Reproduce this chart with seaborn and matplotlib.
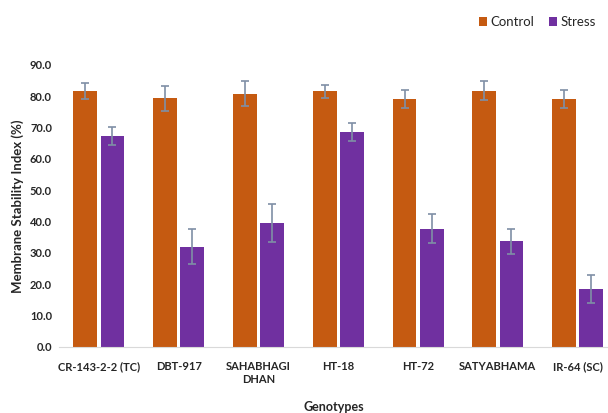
import numpy as np
import pandas as pd
import matplotlib
matplotlib.use("Agg")
import matplotlib.pyplot as plt
import seaborn as sns

# --- data ---
genotypes = ["CR-143-2-2 (TC)", "DBT-917", "SAHABHAGI\nDHAN", "HT-18",
             "HT-72", "SATYABHAMA", "IR-64 (SC)"]
control_mean = [81.6, 79.4, 80.8, 81.5, 79.1, 81.7, 79.1]
control_err = [2.5, 4.0, 4.0, 2.0, 3.0, 3.0, 3.0]
stress_mean = [67.3, 32.0, 39.5, 68.6, 37.7, 33.7, 18.5]
stress_err = [3.0, 5.5, 6.0, 3.0, 4.6, 4.0, 4.5]
treatments = ["Control", "Stress"]
colors = {"Control": "#C55A11", "Stress": "#7030A0"}

df = pd.DataFrame({
    "Genotype": genotypes * 2,
    "Treatment": ["Control"] * len(genotypes) + ["Stress"] * len(genotypes),
    "MSI": control_mean + stress_mean,
    "err": control_err + stress_err,
})

sns.set_style("white")
plt.rcParams["font.family"] = ["Lato", "DejaVu Sans"]

fig = plt.figure(figsize=(6.08, 4.13), dpi=100)
ax = fig.add_axes([0.097, 0.160, 0.903, 0.683])

sns.barplot(data=df, x="Genotype", y="MSI", hue="Treatment", order=genotypes,
            hue_order=treatments, palette=colors, width=0.68, gap=0.12,
            errorbar=None, ax=ax, saturation=1, linewidth=0)

# error bars placed at the bar centres seaborn produced
for cont, tr in zip(ax.containers, treatments):
    sub = df[df["Treatment"] == tr].set_index("Genotype").loc[genotypes]
    xs = [p.get_x() + p.get_width() / 2 for p in cont.patches]
    ax.errorbar(xs, sub["MSI"], yerr=sub["err"], fmt="none",
                ecolor="#7F8FA6", elinewidth=1.2, capsize=3, capthick=1.2)

ax.set_ylim(0, 90)
ax.set_xlim(-0.5, 6.38)
ax.set_yticks(np.arange(0, 91, 10))
ax.set_yticklabels([f"{v:.1f}" for v in np.arange(0, 91, 10)],
                   fontsize=8, fontweight="bold")
for lbl in ax.get_xticklabels():
    lbl.set_fontsize(8)
    lbl.set_fontweight("bold")
ax.tick_params(axis="both", length=0, pad=5)
ax.tick_params(axis="x", pad=10)

for s in ["top", "right", "left"]:
    ax.spines[s].set_visible(False)
ax.spines["bottom"].set_color("#D9D9D9")

ax.set_xlabel("Genotypes", fontsize=9, fontweight="bold", labelpad=12)
ax.set_ylabel("Membrane Stability Index (%)", fontsize=9.5, fontweight="bold",
              labelpad=4)

ax.legend(loc="center right", bbox_to_anchor=(1.0, 1.152), ncol=2,
          frameon=False, fontsize=9.5, handlelength=0.65, handleheight=0.65,
          handletextpad=0.25, columnspacing=1.1)

fig.savefig("out.png", dpi=100)
